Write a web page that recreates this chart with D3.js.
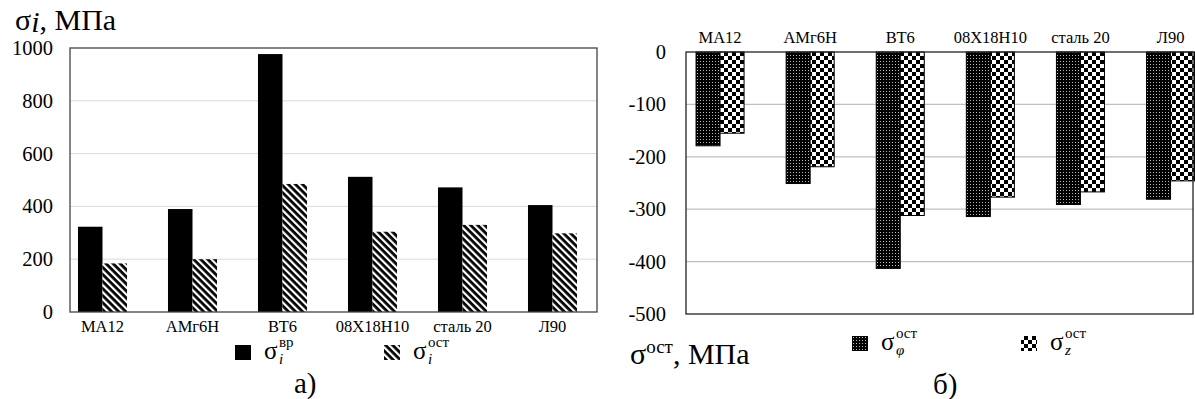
<!DOCTYPE html>
<html>
<head>
<meta charset="utf-8">
<script src="https://cdn.jsdelivr.net/npm/d3@7"></script>
<style>
  body { margin: 0; background: #fff; }
</style>
</head>
<body>
<svg id="canvas" width="1195" height="399" font-family="'Liberation Serif', 'Times New Roman', serif"></svg>
<script>
/********** Initialisation *********/
var svg = d3.select("#canvas");

/************* Data **************/
// materials (both charts)
var materials = ["МА12", "АМг6Н", "ВТ6", "08Х18Н10", "сталь 20", "Л90"];

// chart a) : ultimate strength and residual intensity, MPa
var sigma_vr  = [323, 390, 977, 512, 472, 405];
var sigma_ost = [184, 200, 485, 304, 330, 298];
var ticks_a = [0, 200, 400, 600, 800, 1000];

// chart б) : residual stresses, MPa
var sigma_phi = [-179, -251, -413, -314, -291, -281];
var sigma_z   = [-155, -219, -312, -277, -267, -246];
var ticks_b = [0, -100, -200, -300, -400, -500];

/*********** Patterns *************/
var defs = svg.append("defs");

var hatch = defs.append("pattern")
    .attr("id", "hatch")
    .attr("patternUnits", "userSpaceOnUse")
    .attr("width", 8).attr("height", 5)
    .attr("patternTransform", "rotate(45)");
hatch.append("rect").attr("width", 8).attr("height", 5).attr("fill", "#fff");
hatch.append("rect").attr("width", 8).attr("height", 2.8).attr("fill", "#000");

var dots = defs.append("pattern")
    .attr("id", "dots")
    .attr("patternUnits", "userSpaceOnUse")
    .attr("width", 3).attr("height", 3);
dots.append("rect").attr("width", 3).attr("height", 3).attr("fill", "#000");
dots.append("rect").attr("x", 1).attr("y", 1).attr("width", 1).attr("height", 1).attr("fill", "#bbb");

var checker = defs.append("pattern")
    .attr("id", "checker")
    .attr("patternUnits", "userSpaceOnUse")
    .attr("width", 8).attr("height", 8);
checker.append("rect").attr("width", 8).attr("height", 8).attr("fill", "#fff");
checker.append("rect").attr("width", 4).attr("height", 4).attr("fill", "#000");
checker.append("rect").attr("x", 4).attr("y", 4).attr("width", 4).attr("height", 4).attr("fill", "#000");

/*********** Chart a) *************/
var ga = svg.append("g");
var frameA = {x0: 70, x1: 597, y0: 48, y1: 312};

var xa = d3.scaleBand()
    .domain(materials)
    .range([57.5, 597.5])
    .paddingInner(0.455)
    .paddingOuter(0.2275);
var xa1 = d3.scaleBand()
    .domain(["vr", "ost"])
    .range([0, xa.bandwidth()]);
var ya = d3.scaleLinear().domain([0, 1000]).range([frameA.y1, frameA.y0]);

ga.selectAll("line.grid")
    .data(ticks_a.slice(1, -1))
    .enter().append("line")
    .attr("x1", frameA.x0).attr("x2", frameA.x1)
    .attr("y1", ya).attr("y2", ya)
    .attr("stroke", "#d9d9d9").attr("stroke-width", 1);

ga.selectAll("text.ytick")
    .data(ticks_a)
    .enter().append("text")
    .attr("x", 53)
    .attr("y", function(d) { return ya(d) + 7; })
    .attr("text-anchor", "end")
    .style("font-size", "20.5px")
    .text(function(d) { return d; });

function barsA(values, key, fill)
{
    ga.selectAll("rect." + key)
        .data(values)
        .enter().append("rect")
        .attr("x", function(d, i) { return xa(materials[i]) + xa1(key); })
        .attr("width", xa1.bandwidth())
        .attr("y", function(d) { return ya(d); })
        .attr("height", function(d) { return ya(0) - ya(d); })
        .attr("fill", fill);
}
barsA(sigma_vr, "vr", "#000");
barsA(sigma_ost, "ost", "url(#hatch)");

ga.append("rect")
    .attr("x", frameA.x0).attr("y", frameA.y0)
    .attr("width", frameA.x1 - frameA.x0).attr("height", frameA.y1 - frameA.y0)
    .attr("fill", "none").attr("stroke", "#444").attr("stroke-width", 1.3);

ga.selectAll("text.xtick")
    .data(materials)
    .enter().append("text")
    .attr("x", function(d) { return xa(d) + xa.bandwidth() / 2; })
    .attr("y", 332)
    .attr("text-anchor", "middle")
    .style("font-size", "16.5px")
    .text(function(d) { return d; });

// axis title
var ta = ga.append("text").attr("x", 15).attr("y", 30).style("font-size", "30px");
ta.append("tspan").text("σ");
ta.append("tspan").style("font-style", "italic").attr("dy", 2).text("i");
ta.append("tspan").attr("dy", -2).text(", МПа");

/*********** Chart б) *************/
var gb = svg.append("g");
var frameB = {x0: 686, x1: 1193, y0: 52, y1: 314};

var xb = d3.scaleBand()
    .domain(materials)
    .range([675, 1215.6])
    .paddingInner(0.467)
    .paddingOuter(0.2335);
var xb1 = d3.scaleBand()
    .domain(["phi", "z"])
    .range([0, xb.bandwidth()]);
var yb = d3.scaleLinear().domain([-500, 0]).range([frameB.y1, frameB.y0]);

gb.selectAll("line.grid")
    .data(ticks_b.slice(1, -1))
    .enter().append("line")
    .attr("x1", frameB.x0).attr("x2", frameB.x1)
    .attr("y1", yb).attr("y2", yb)
    .attr("stroke", "#bfbfbf").attr("stroke-width", 1.2);

gb.selectAll("text.ytick")
    .data(ticks_b)
    .enter().append("text")
    .attr("x", 666)
    .attr("y", function(d) { return yb(d) + 7; })
    .attr("text-anchor", "end")
    .style("font-size", "20.5px")
    .text(function(d) { return d; });

function barsB(values, key, fill)
{
    gb.selectAll("rect." + key)
        .data(values)
        .enter().append("rect")
        .attr("x", function(d, i) { return xb(materials[i]) + xb1(key); })
        .attr("width", xb1.bandwidth())
        .attr("y", yb(0))
        .attr("height", function(d) { return yb(d) - yb(0); })
        .attr("fill", fill)
        .attr("stroke", "#000").attr("stroke-width", 1);
}
barsB(sigma_phi, "phi", "url(#dots)");
barsB(sigma_z, "z", "url(#checker)");

gb.append("rect")
    .attr("x", frameB.x0).attr("y", frameB.y0)
    .attr("width", frameB.x1 - frameB.x0).attr("height", frameB.y1 - frameB.y0)
    .attr("fill", "none").attr("stroke", "#222").attr("stroke-width", 1.3);

gb.selectAll("text.xtick")
    .data(materials)
    .enter().append("text")
    .attr("x", function(d) { return xb(d) + xb.bandwidth() / 2; })
    .attr("y", 43)
    .attr("text-anchor", "middle")
    .style("font-size", "16.5px")
    .text(function(d) { return d; });

var tb = gb.append("text").attr("x", 630).attr("y", 364).style("font-size", "30px");
tb.append("tspan").text("σ");
tb.append("tspan").attr("dy", -11).style("font-size", "19px").text("ост");
tb.append("tspan").attr("dy", 11).text(", МПа");

/*********** Legends *************/
function legendItem(g, x, y, fill, sup, sub)
{
    g.append("rect")
        .attr("x", x).attr("y", y)
        .attr("width", 16).attr("height", 15)
        .attr("fill", fill);
    g.append("text").attr("x", x + 29).attr("y", y + 14)
        .style("font-size", "25px")
        .text("σ");
    var sx = x + 44;
    g.append("text").attr("x", sx).attr("y", y + 2).style("font-size", "15px").text(sup);
    g.append("text").attr("x", sx).attr("y", y + 19)
        .style("font-size", "15px")
        .style("font-style", "italic")
        .text(sub);
}
legendItem(ga, 235, 345, "#000", "вр", "i");
legendItem(ga, 384, 345, "url(#hatch)", "ост", "i");
legendItem(gb, 852, 336, "url(#dots)", "ост", "φ");
legendItem(gb, 1021, 336, "url(#checker)", "ост", "z");

// captions
ga.append("text").attr("x", 294).attr("y", 393).style("font-size", "29px").text("а)");
gb.append("text").attr("x", 933).attr("y", 394).style("font-size", "29px").text("б)");
</script>
</body>
</html>
